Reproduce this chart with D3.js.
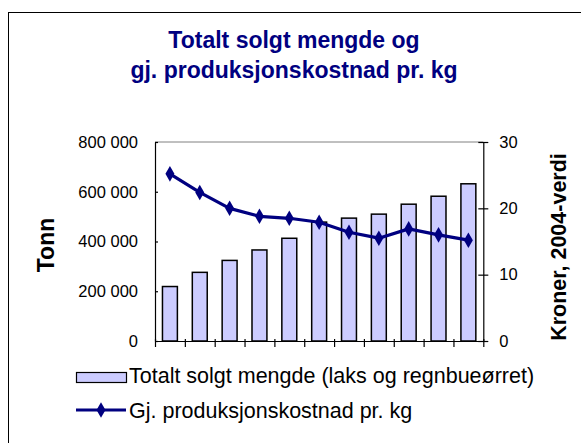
<!DOCTYPE html>
<html>
<head>
<meta charset="utf-8">
<script src="https://cdn.jsdelivr.net/npm/d3@7"></script>
<style>
  html, body { margin: 0; padding: 0; background: #fff; }
  svg { display: block; font-family: "Liberation Sans", Arial, sans-serif; }
</style>
</head>
<body>
<div id="chart"></div>
<script>
(function () {

    // data (years are not labelled in the original)
    var YEARS   = ["1994", "1995", "1996", "1997", "1998", "1999", "2000", "2001", "2002", "2003", "2004"];
    var TONNES  = [219000, 276000, 324000, 366000, 413000, 478000, 494000, 510000, 550000, 582000, 632000];
    var COST    = [25.2, 22.4, 20.0, 18.8, 18.5, 17.9, 16.4, 15.5, 16.9, 16.0, 15.2];
    var LEFT_TICKS  = [0, 200000, 400000, 600000, 800000];
    var RIGHT_TICKS = [0, 10, 20, 30];

    var W = 581, H = 443;
    var plot = { left: 155, right: 483.3, top: 142, bottom: 341 };

    var NAVY = "#000080";
    var BAR  = "#ccccff";

    var svg = d3.select("#chart").append("svg")
        .attr("width", W).attr("height", H);

    // outer chart frame (runs off the bottom/right)
    svg.append("rect")
        .attr("x", 8.5).attr("y", 12.5)
        .attr("width", 640).attr("height", 480)
        .attr("fill", "#fff").attr("stroke", "#000").attr("stroke-width", 1);

    /* ── title ───────────────────────────────────────────────────── */
    var title = svg.append("text")
        .attr("text-anchor", "middle")
        .attr("fill", NAVY)
        .style("font-weight", "bold")
        .style("font-size", "23px");
    title.append("tspan").attr("x", 294).attr("y", 48).text("Totalt solgt mengde og");
    title.append("tspan").attr("x", 294).attr("y", 78).text("gj. produksjonskostnad pr. kg");

    /* ── scales ──────────────────────────────────────────────────── */
    var x = d3.scaleBand()
        .domain(YEARS)
        .range([plot.left, plot.right])
        .paddingInner(0.5)
        .paddingOuter(0.25);

    var xEdge = d3.scaleLinear()
        .domain([0, YEARS.length])
        .range([plot.left, plot.right]);

    var yL = d3.scaleLinear().domain([0, 800000]).range([plot.bottom, plot.top]);
    var yR = d3.scaleLinear().domain([0, 30]).range([plot.bottom, plot.top]);

    // gray plot-area top edge
    svg.append("line")
        .attr("x1", plot.left).attr("x2", plot.right)
        .attr("y1", plot.top).attr("y2", plot.top)
        .attr("stroke", "#808080").attr("stroke-width", 1);

    /* ── bars ────────────────────────────────────────────────────── */
    svg.append("g").selectAll("rect")
        .data(TONNES)
        .enter().append("rect")
        .attr("x", function (d, i) { return x(YEARS[i]); })
        .attr("width", x.bandwidth())
        .attr("y", function (d) { return yL(d); })
        .attr("height", function (d) { return yL(0) - yL(d); })
        .attr("fill", BAR)
        .attr("stroke", "#000")
        .attr("stroke-width", 1.5);

    /* ── axes ────────────────────────────────────────────────────── */
    var fmt = function (v) { return d3.format(",")(v).replace(/,/g, " "); };

    var axL = svg.append("g")
        .attr("transform", "translate(" + plot.left + ",0)")
        .call(d3.axisLeft(yL).tickValues(LEFT_TICKS).tickSize(6).tickSizeOuter(0).tickPadding(11).tickFormat(fmt));

    var axR = svg.append("g")
        .attr("transform", "translate(" + plot.right + ",0)")
        .call(d3.axisRight(yR).tickValues(RIGHT_TICKS).tickSize(5).tickSizeOuter(0).tickPadding(11));

    // ticks cross the axis lines
    axR.selectAll(".tick line").attr("x1", -5);
    axL.selectAll(".tick line").attr("x2", 3);

    var axX = svg.append("g")
        .attr("transform", "translate(0," + plot.bottom + ")")
        .call(d3.axisBottom(xEdge).tickValues(d3.range(0, YEARS.length + 1)).tickSize(6).tickSizeOuter(0).tickFormat(""));
    axX.selectAll(".tick line").attr("y1", -2);

    svg.selectAll(".domain, .tick line")
        .attr("stroke", "#000").attr("stroke-width", 1.2);
    svg.selectAll(".tick text")
        .attr("fill", "#000")
        .style("font-family", "'Liberation Sans', Arial, sans-serif")
        .style("font-size", "16.5px");
    axL.selectAll(".tick text").attr("x", -17);

    /* ── line series ─────────────────────────────────────────────── */
    var line = d3.line()
        .x(function (d, i) { return x(YEARS[i]) + x.bandwidth() / 2; })
        .y(function (d) { return yR(d); });

    svg.append("path")
        .datum(COST)
        .attr("d", line)
        .attr("fill", "none")
        .attr("stroke", NAVY)
        .attr("stroke-width", 3.2)
        .attr("stroke-linejoin", "round");

    var diamond = d3.symbol().type(d3.symbolDiamond).size(70);
    svg.append("g").selectAll("path")
        .data(COST)
        .enter().append("path")
        .attr("d", diamond)
        .attr("transform", function (d, i) {
            return "translate(" + (x(YEARS[i]) + x.bandwidth() / 2) + "," + yR(d) + ")";
        })
        .attr("fill", NAVY);

    /* ── axis titles ─────────────────────────────────────────────── */
    svg.append("text")
        .attr("transform", "translate(54,245) rotate(-90)")
        .attr("text-anchor", "middle")
        .style("font-weight", "bold").style("font-size", "23px")
        .text("Tonn");

    svg.append("text")
        .attr("transform", "translate(566,247) rotate(-90)")
        .attr("text-anchor", "middle")
        .style("font-weight", "bold").style("font-size", "21.5px")
        .text("Kroner, 2004-verdi");

    /* ── legend ──────────────────────────────────────────────────── */
    var legend = svg.append("g").style("font-size", "21.5px");

    legend.append("rect")
        .attr("x", 76.5).attr("y", 372.5)
        .attr("width", 50).attr("height", 10)
        .attr("fill", BAR).attr("stroke", "#000").attr("stroke-width", 1.2);
    legend.append("text")
        .attr("x", 129).attr("y", 383)
        .text("Totalt solgt mengde (laks og regnbueørret)");

    legend.append("line")
        .attr("x1", 76).attr("x2", 126)
        .attr("y1", 410).attr("y2", 410)
        .attr("stroke", NAVY).attr("stroke-width", 3);
    legend.append("path")
        .attr("d", diamond)
        .attr("transform", "translate(101,410)")
        .attr("fill", NAVY);
    legend.append("text")
        .attr("x", 129).attr("y", 418)
        .text("Gj. produksjonskostnad pr. kg");

}());
</script>
</body>
</html>
